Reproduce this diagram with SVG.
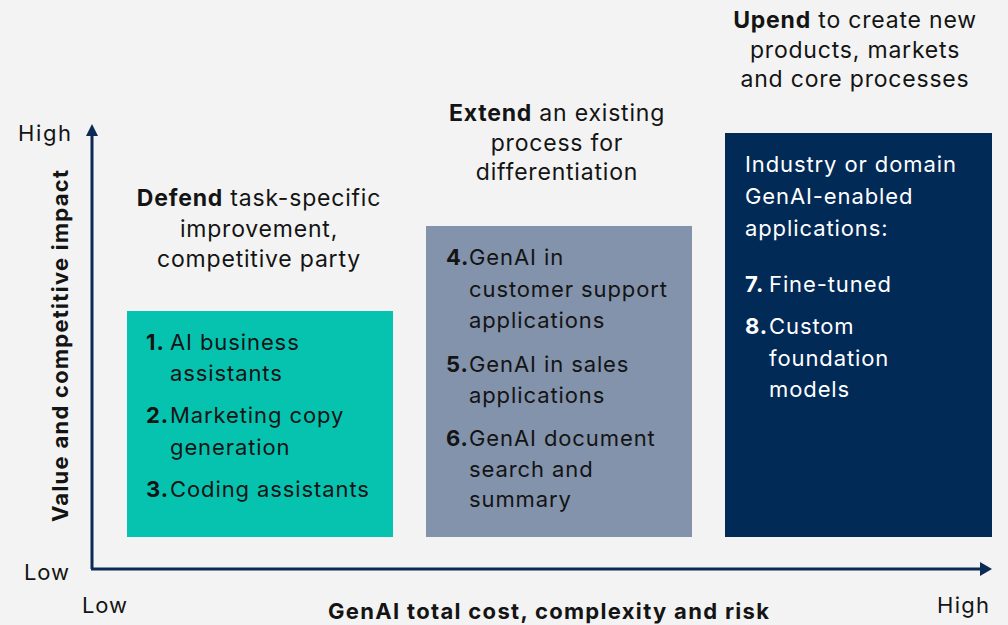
<svg xmlns="http://www.w3.org/2000/svg" width="1008" height="625" viewBox="0 0 1008 625">
<defs>
<style>
.t{font-family:Inter,"Liberation Sans",sans-serif;font-size:22px;fill:#141414;letter-spacing:0.9px}
.h{font-size:23px;letter-spacing:0.8px}
.w{fill:#ffffff}
.b{font-weight:bold}
.c{text-anchor:middle}
.ax{font-family:Inter,"Liberation Sans",sans-serif;font-weight:bold;font-size:22px;fill:#141414}
</style>
</defs>
<rect width="1008" height="625" fill="#f3f3f3"/>
<g id="connectors" stroke="#0b2a55" stroke-width="3" fill="none">
<path d="M92,569V136"/>
<path d="M91,569H980"/>
<path d="M86,136L92,124L98,136z" fill="#0b2a55" stroke="none"/>
<path d="M980,562L992,569L980,576z" fill="#0b2a55" stroke="none"/>
</g>
<g id="axes">
<text class="t" x="18" y="141" textLength="54">High</text>
<text class="t" x="24" y="580" textLength="46">Low</text>
<text class="t" x="82" y="613" textLength="46">Low</text>
<text class="t" x="937" y="613" textLength="53">High</text>
<text class="ax" x="328" y="619" textLength="441">GenAI total cost, complexity and risk</text>
<text class="ax" transform="translate(68,522) rotate(-90)" textLength="352">Value and competitive impact</text>
</g>
<g id="defend">
<text class="t h c"><tspan x="259" y="206"><tspan class="b">Defend</tspan> task-specific</tspan><tspan x="259" y="237">improvement,</tspan><tspan x="259" y="267">competitive party</tspan></text>
<rect x="127" y="311" width="266" height="226" fill="#06c3b0"/>
<text class="t"><tspan class="b" x="146" y="350">1.</tspan><tspan x="170" y="350">AI business</tspan><tspan x="170" y="381">assistants</tspan><tspan class="b" x="146" y="423">2.</tspan><tspan x="170" y="423">Marketing copy</tspan><tspan x="170" y="455">generation</tspan><tspan class="b" x="146" y="497">3.</tspan><tspan x="170" y="497">Coding assistants</tspan></text>
</g>
<g id="extend">
<text class="t h c"><tspan x="557" y="121"><tspan class="b">Extend</tspan> an existing</tspan><tspan x="557" y="151">process for</tspan><tspan x="557" y="180">differentiation</tspan></text>
<rect x="426" y="226" width="266" height="311" fill="#8293ab"/>
<text class="t"><tspan class="b" x="446" y="265">4.</tspan><tspan x="469" y="265">GenAI in</tspan><tspan x="469" y="297">customer support</tspan><tspan x="469" y="328">applications</tspan><tspan class="b" x="446" y="372">5.</tspan><tspan x="469" y="372">GenAI in sales</tspan><tspan x="469" y="403">applications</tspan><tspan class="b" x="446" y="446">6.</tspan><tspan x="469" y="446">GenAI document</tspan><tspan x="469" y="477">search and</tspan><tspan x="469" y="507">summary</tspan></text>
</g>
<g id="upend">
<text class="t h c"><tspan x="855" y="28"><tspan class="b">Upend</tspan> to create new</tspan><tspan x="855" y="58">products, markets</tspan><tspan x="855" y="87">and core processes</tspan></text>
<rect x="725" y="133" width="267" height="404" fill="#012a57"/>
<text class="t w"><tspan x="745" y="172">Industry or domain</tspan><tspan x="745" y="204">GenAI-enabled</tspan><tspan x="745" y="236">applications:</tspan><tspan class="b" x="745" y="292">7.</tspan><tspan x="769" y="292">Fine-tuned</tspan><tspan class="b" x="745" y="334">8.</tspan><tspan x="769" y="334">Custom</tspan><tspan x="769" y="366">foundation</tspan><tspan x="769" y="397">models</tspan></text>
</g>
</svg>
